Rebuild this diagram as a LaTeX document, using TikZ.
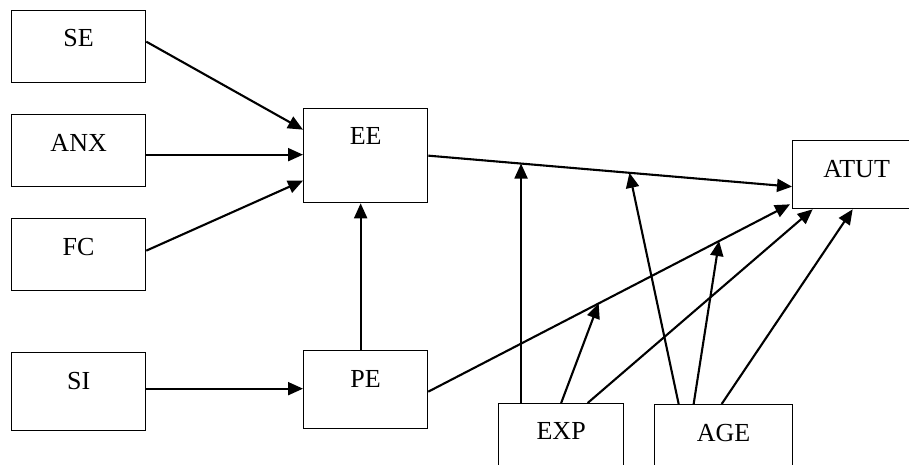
\documentclass[tikz,border=0pt]{standalone}
\usepackage{fontspec}
\setmainfont{Liberation Serif}
\usetikzlibrary{arrows.meta,calc}

\tikzset{
  box/.style={draw, line width=1.3pt, rectangle, inner sep=0pt, anchor=north west},
  boxtext/.style={anchor=base, inner sep=0pt, font=\fontsize{26}{30}\selectfont},
  link/.style={line width=2.1pt, -{Triangle[length=15pt,width=13pt]}}
}

\begin{document}
\begin{tikzpicture}[x=1pt, y=-1pt]
  \useasboundingbox (0,0) rectangle (909,464);
  \clip (0,0) rectangle (909,464);

  % boxes (top-left corner, size)
  \node[box, minimum width=134pt, minimum height=72pt] (se)   at (11,10)   {};
  \node[box, minimum width=134pt, minimum height=72pt] (anx)  at (11,114)  {};
  \node[box, minimum width=134pt, minimum height=72pt] (fc)   at (11,218)  {};
  \node[box, minimum width=134pt, minimum height=78pt] (si)   at (11,352)  {};
  \node[box, minimum width=124pt, minimum height=94pt] (ee)   at (303,108) {};
  \node[box, minimum width=124pt, minimum height=78pt] (pe)   at (303,350) {};
  \node[box, minimum width=128pt, minimum height=68pt] (atut) at (792,140) {};
  \node[box, minimum width=125pt, minimum height=90pt] (exp)  at (498,403) {};
  \node[box, minimum width=138pt, minimum height=90pt] (age)  at (654,404) {};

  % labels, set near the top of each box
  \node[boxtext] (se-t)   at ($(se.north)+(0,36)$)   {SE};
  \node[boxtext] (anx-t)  at ($(anx.north)+(0,37)$)  {ANX};
  \node[boxtext] (fc-t)   at ($(fc.north)+(0,37)$)   {FC};
  \node[boxtext] (si-t)   at ($(si.north)+(0,37)$)   {SI};
  \node[boxtext] (ee-t)   at ($(ee.north)+(0,36)$)   {EE};
  \node[boxtext] (pe-t)   at ($(pe.north)+(0,37)$)   {PE};
  \node[boxtext] (atut-t) at ($(atut.north)+(0,37)$) {ATUT};
  \node[boxtext] (exp-t)  at ($(exp.north)+(0,36)$)  {EXP};
  \node[boxtext] (age-t)  at ($(age.north)+(0,37)$)  {AGE};

  % inputs to EE and PE
  \draw[link] ($(se.east)+(0,-5)$)  -- ($(ee.west)+(0,-26)$);
  \draw[link] ($(anx.east)+(0,4)$)  -- ($(ee.west)+(0,-1)$);
  \draw[link] ($(fc.east)+(0,-4)$)  -- ($(ee.west)+(0,25)$);
  \draw[link] ($(si.east)+(0,-3)$)  -- ($(pe.west)+(0,-1)$);
  \draw[link] ($(pe.north)+(-5,0)$) -- ($(ee.south)+(-5,0)$);

  % main paths into ATUT
  \coordinate (eeout) at (ee.east);
  \coordinate (atin1) at ($(atut.west)+(0,12)$);
  \coordinate (peout) at ($(pe.east)+(0,2)$);
  \coordinate (atin2) at ($(atut.south west)+(-2,-5)$);
  \draw[link] (eeout) -- (atin1);
  \draw[link] (peout) -- (atin2);

  % moderating points on the main paths
  \coordinate (m1) at ($(eeout)!0.255!(atin1)$);
  \coordinate (m2) at ($(eeout)!0.553!(atin1)$);
  \coordinate (m3) at ($(peout)!0.471!(atin2)$);
  \coordinate (m4) at ($(peout)!0.804!(atin2)$);

  % EXP links
  \draw[link] (m1 |- exp.north) -- (m1);
  \draw[link] (exp.north) -- (m3);
  \draw[link] ($(exp.north)+(26.5,0)$) -- ($(atut.south)+(-44,0)$);

  % AGE links
  \draw[link] ($(age.north)+(-45,0)$) -- (m2);
  \draw[link] ($(age.north)+(-30,0)$) -- (m4);
  \draw[link] ($(age.north)+(-2,0)$)  -- ($(atut.south)+(-4,0)$);
\end{tikzpicture}
\end{document}
